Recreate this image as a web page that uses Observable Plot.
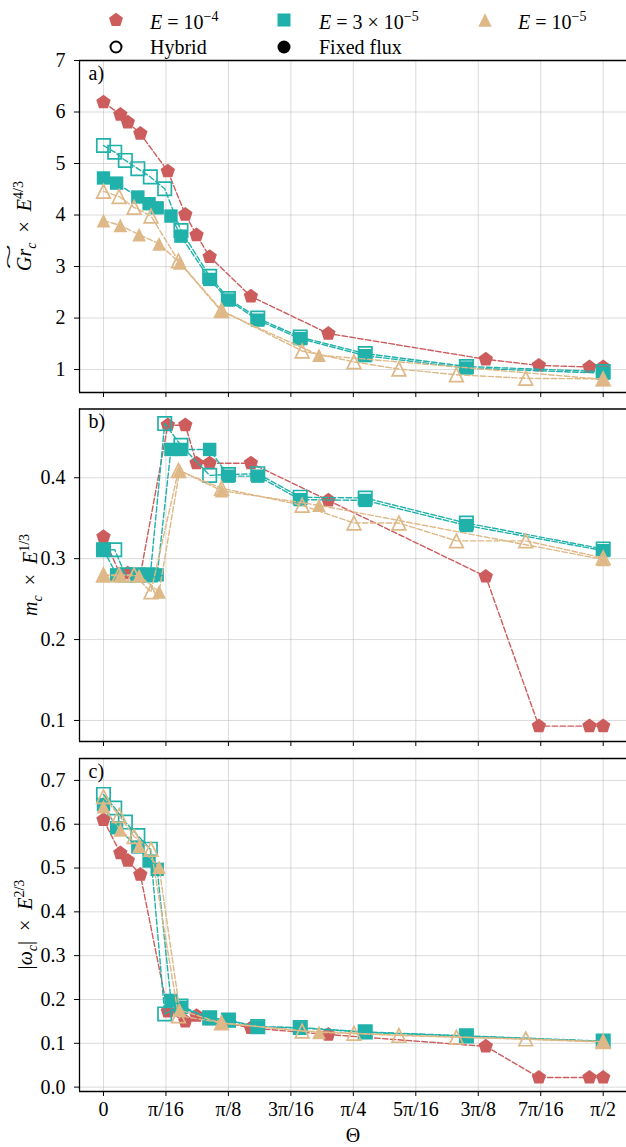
<!DOCTYPE html>
<html><head><meta charset="utf-8">
<script src="https://cdn.jsdelivr.net/npm/d3@7"></script>
<script src="https://cdn.jsdelivr.net/npm/@observablehq/plot@0.6"></script>
<style>
html,body{margin:0;padding:0;background:#fff;width:626px;overflow:hidden;}
body{font-family:"Liberation Serif","Times New Roman",serif;}
svg{display:block;}
</style></head><body>
<div id="root"></div>
<script>
// ---------- data (Θ in units of π/16) ----------
const xTicks = [0, 1, 2, 3, 4, 5, 6, 7, 8];
const xTickLabels = ["0", "π/16", "π/8", "3π/16", "π/4", "5π/16", "3π/8", "7π/16", "π/2"];
const yTicksA = [1, 2, 3, 4, 5, 6, 7];
const yTicksB = [0.1, 0.2, 0.3, 0.4];
const yTicksC = [0.0, 0.1, 0.2, 0.3, 0.4, 0.5, 0.6, 0.7];

// E = 1e-4, fixed flux
const red_theta = [0, 0.27, 0.39, 0.59, 1.03, 1.31, 1.49, 1.70, 2.36, 3.60, 6.12, 6.97, 7.78, 8.0];
const red_gr = [6.19, 5.95, 5.80, 5.58, 4.85, 4.01, 3.61, 3.19, 2.42, 1.70, 1.20, 1.08, 1.05, 1.05];
const red_m = [0.327, 0.280, 0.282, 0.280, 0.465, 0.465, 0.418, 0.418, 0.418, 0.372, 0.278, 0.093, 0.093, 0.093];
const red_w = [0.610, 0.534, 0.517, 0.485, 0.173, 0.150, 0.163, 0.155, 0.135, 0.120, 0.093, 0.022, 0.022, 0.022];

// E = 3e-5, hybrid
const tealH_theta = [0, 0.18, 0.35, 0.55, 0.75, 0.98, 1.24, 1.70, 2.00, 2.47, 3.15, 4.19, 5.81, 8.0];
const tealH_gr = [5.35, 5.22, 5.06, 4.90, 4.74, 4.51, 3.70, 2.81, 2.38, 2.00, 1.63, 1.31, 1.06, 0.96];
const tealH_m = [0.311, 0.311, 0.280, 0.280, 0.280, 0.467, 0.440, 0.403, 0.404, 0.405, 0.376, 0.375, 0.344, 0.312];
const tealH_w = [0.668, 0.637, 0.605, 0.574, 0.543, 0.167, 0.185, 0.158, 0.153, 0.138, 0.136, 0.126, 0.117, 0.105];

// E = 3e-5, fixed flux
const tealF_theta = [0, 0.21, 0.55, 0.73, 0.86, 1.08, 1.24, 1.70, 2.00, 2.47, 3.15, 4.19, 5.81, 8.0];
const tealF_gr = [4.72, 4.62, 4.35, 4.22, 4.14, 3.98, 3.59, 2.75, 2.35, 1.96, 1.60, 1.27, 1.03, 0.93];
const tealF_m = [0.311, 0.280, 0.280, 0.280, 0.280, 0.435, 0.435, 0.435, 0.402, 0.402, 0.373, 0.372, 0.341, 0.310];
const tealF_w = [0.645, 0.592, 0.548, 0.516, 0.497, 0.198, 0.182, 0.157, 0.152, 0.137, 0.135, 0.125, 0.116, 0.104];

// E = 1e-5, hybrid
const tanH_theta = [0, 0.25, 0.49, 0.76, 1.20, 1.89, 3.18, 4.01, 4.73, 5.65, 6.76, 8.0];
const tanH_gr = [4.46, 4.36, 4.15, 3.98, 3.11, 2.15, 1.36, 1.15, 1.01, 0.90, 0.83, 0.82];
const tanH_m = [0.280, 0.280, 0.280, 0.259, 0.409, 0.387, 0.366, 0.344, 0.344, 0.322, 0.322, 0.301];
const tanH_w = [0.663, 0.620, 0.572, 0.543, 0.163, 0.147, 0.128, 0.123, 0.118, 0.114, 0.110, 0.104];

// E = 1e-5, fixed flux
const tanF_theta = [0, 0.27, 0.57, 0.89, 1.22, 1.89, 3.45, 8.0];
const tanF_gr = [3.89, 3.80, 3.62, 3.44, 3.07, 2.13, 1.28, 0.81];
const tanF_m = [0.279, 0.279, 0.279, 0.259, 0.409, 0.384, 0.366, 0.299];
const tanF_w = [0.640, 0.587, 0.550, 0.502, 0.176, 0.146, 0.125, 0.103];

// ---------- styling ----------
const RED = "#cd5c5c", TEAL = "#20b2aa", TAN = "#deb887";
const FONT = '"Liberation Serif", "Times New Roman", serif';
const FS = "20px", FS_SMALL = "14px";

const pentagon = {draw(ctx, size) {
  const R = Math.sqrt(size / Math.PI) * 1.05;
  for (let i = 0; i < 5; i++) {
    const a = -Math.PI / 2 + i * 2 * Math.PI / 5;
    const x = R * Math.cos(a), y = R * Math.sin(a);
    if (i) ctx.lineTo(x, y); else ctx.moveTo(x, y);
  }
  ctx.closePath();
}};
const square = {draw(ctx, size) {
  const h = Math.sqrt(size / Math.PI) * 0.93;
  ctx.rect(-h, -h, 2 * h, 2 * h);
}};
const triangle = {draw(ctx, size) {
  const h = Math.sqrt(size / Math.PI) * 0.95;
  ctx.moveTo(0, -h); ctx.lineTo(h, h); ctx.lineTo(-h, h); ctx.closePath();
}};

const series = [
  {theta: red_theta, vals: [red_gr, red_m, red_w], color: RED, symbol: pentagon, open: false},
  {theta: tealH_theta, vals: [tealH_gr, tealH_m, tealH_w], color: TEAL, symbol: square, open: true},
  {theta: tealF_theta, vals: [tealF_gr, tealF_m, tealF_w], color: TEAL, symbol: square, open: false},
  {theta: tanH_theta, vals: [tanH_gr, tanH_m, tanH_w], color: TAN, symbol: triangle, open: true},
  {theta: tanF_theta, vals: [tanF_gr, tanF_m, tanF_w], color: TAN, symbol: triangle, open: false}
];

const xDomain = [-0.384, 8.373];
const panels = [
  {yDomain: [0.555, 7.0], yTicks: yTicksA, fmt: d => d.toFixed(0), letter: "a)", height: 340, mt: 4, mb: 4, xlabels: false},
  {yDomain: [0.074, 0.485], yTicks: yTicksB, fmt: d => d.toFixed(1), letter: "b)", height: 349, mt: 12.5, mb: 4, xlabels: false},
  {yDomain: [-0.010, 0.750], yTicks: yTicksC, fmt: d => d.toFixed(1), letter: "c)", height: 402, mt: 13, mb: 56, xlabels: true}
];

const root = document.getElementById("root");

// ---------- legend ----------
const leg = d3.select(root).append("svg").attr("width", 626).attr("height", 56)
  .style("font-family", FONT).style("font-size", FS).style("overflow", "visible");
function legSym(sym, cx, cy, fill, stroke) {
  const p = d3.path(); sym.draw(p, Math.PI * 49);
  leg.append("path").attr("d", p.toString()).attr("transform", `translate(${cx},${cy})`)
    .attr("fill", fill).attr("stroke", stroke).attr("stroke-width", 2);
}
function legText(x, y, parts) {
  const t = leg.append("text").attr("x", x).attr("y", y).attr("dy", "0.35em");
  for (const [s, italic, sup] of parts) {
    const ts = t.append("tspan").text(s);
    if (italic) ts.style("font-style", "italic");
    if (sup === 1) ts.attr("dy", -8).style("font-size", FS_SMALL);
  }
  return t;
}
legSym(pentagon, 116, 20, RED, "none");
legText(150, 22, [["E", true], [" = 10"], ["−4", false, 1]]);
legSym(square, 284, 20, TEAL, "none");
legText(319, 22, [["E", true], [" = 3 × 10"], ["−5", false, 1]]);
legSym(triangle, 485, 20, TAN, "none");
legText(518, 22, [["E", true], [" = 10"], ["−5", false, 1]]);
leg.append("circle").attr("cx", 116).attr("cy", 47).attr("r", 5.5).attr("fill", "none").attr("stroke", "black").attr("stroke-width", 2);
legText(150, 47, [["Hybrid"]]);
leg.append("circle").attr("cx", 284).attr("cy", 47).attr("r", 6.5).attr("fill", "black");
legText(319, 47, [["Fixed flux"]]);

// ---------- panels ----------
const svgs = [];
panels.forEach((P, pi) => {
  const marks = [
    Plot.gridX(xTicks, {stroke: "#b0b0b0", strokeOpacity: 0.45, strokeWidth: 1}),
    Plot.gridY(P.yTicks, {stroke: "#b0b0b0", strokeOpacity: 0.45, strokeWidth: 1})
  ];
  for (const s of series) {
    const rows = s.theta.map((t, i) => ({theta: t, v: s.vals[pi][i]}));
    marks.push(Plot.line(rows, {x: "theta", y: "v", stroke: s.color, strokeWidth: 1.4, strokeDasharray: "5.5,2.4"}));
    marks.push(Plot.dot(rows, {x: "theta", y: "v", symbol: s.symbol, r: 7.2,
      fill: s.open ? "none" : s.color, stroke: s.open ? s.color : "none", strokeWidth: 1.7}));
  }
  marks.push(
    Plot.ruleY([P.yDomain[0], P.yDomain[1]], {stroke: "black", strokeWidth: 1.3}),
    Plot.ruleX([xDomain[0]], {stroke: "black", strokeWidth: 1.3}),
    Plot.axisY({ticks: P.yTicks, tickSize: 5, tickPadding: 9, tickFormat: P.fmt, label: null}),
    Plot.axisX({ticks: xTicks, tickSize: 5, tickPadding: 5, label: null,
      tickFormat: P.xlabels ? (d => xTickLabels[xTicks.indexOf(d)]) : (() => "")}),
    Plot.text([P.letter], {frameAnchor: "top-left", dx: 9, dy: 5, fontSize: 20, text: d => d})
  );
  const svg = Plot.plot({
    width: 626, height: P.height,
    marginLeft: 79, marginRight: 0, marginTop: P.mt, marginBottom: P.mb,
    x: {domain: xDomain},
    y: {domain: P.yDomain},
    style: {fontFamily: FONT, fontSize: FS, color: "black", background: "none", overflow: "visible"},
    marks
  });
  root.appendChild(svg);
  svgs.push(svg);
});

// ---------- axis labels with math ----------
function yLabel(svg, cx, cy, build) {
  const g = d3.select(svg).append("g").attr("transform", `translate(${cx},${cy}) rotate(-90)`)
    .style("font-family", FONT).style("font-size", FS);
  const t = g.append("text").attr("text-anchor", "middle").attr("dy", "0.35em").attr("fill", "black");
  build(t, g);
}
function add(t, s, o = {}) {
  const ts = t.append("tspan").text(s);
  if (o.it) ts.style("font-style", "italic");
  if (o.dy) ts.attr("dy", o.dy);
  if (o.small) ts.style("font-size", FS_SMALL);
  return ts;
}
const TIMES = "\u2002×\u2002";
yLabel(svgs[0], 24, 170, (t, g) => {
  add(t, "Gr", {it: true});
  add(t, "c", {it: true, small: true, dy: 5});
  add(t, TIMES, {dy: -5});
  add(t, "E", {it: true});
  add(t, "4/3", {small: true, dy: -8});
  const n = t.node();
  const x0 = n.getStartPositionOfChar(0).x, x1 = n.getEndPositionOfChar(2).x;
  const w = x1 - x0;
  g.append("text").attr("text-anchor", "middle").attr("fill", "black")
    .attr("transform", `translate(${(x0 + x1) / 2},-9) scale(${w / 11},1)`)
    .style("font-size", "18px").text("~");
});
yLabel(svgs[1], 30, 179, (t) => {
  add(t, "m", {it: true});
  add(t, "c", {it: true, small: true, dy: 5});
  add(t, TIMES, {dy: -5});
  add(t, "E", {it: true});
  add(t, "1/3", {small: true, dy: -8});
});
yLabel(svgs[2], 25, 179.5, (t) => {
  add(t, "|");
  add(t, "ω", {it: true});
  add(t, "c", {it: true, small: true, dy: 5});
  add(t, "|", {dy: -5});
  add(t, TIMES);
  add(t, "E", {it: true});
  add(t, "2/3", {small: true, dy: -8});
});
// x label Θ
d3.select(svgs[2]).append("text").attr("x", 353).attr("y", 390).attr("text-anchor", "middle")
  .attr("dy", "0.35em").style("font-family", FONT).style("font-size", FS).text("Θ");
</script>
</body></html>
